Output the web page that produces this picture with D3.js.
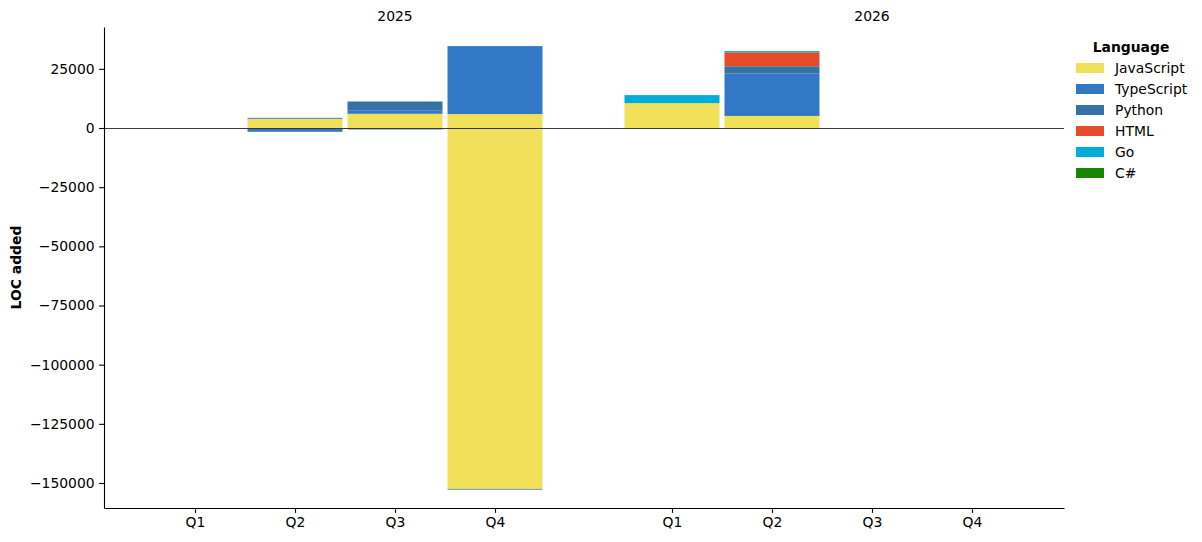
<!DOCTYPE html>
<html>
<head>
<meta charset="utf-8">
<script src="https://cdn.jsdelivr.net/npm/d3@7"></script>
<style>
  body { margin: 0; background: #fff; }
  text { font-family: "DejaVu Sans", sans-serif; }
</style>
</head>
<body>
<div id="chart"></div>
<script>
// Data
var years = ["2025", "2026"];
var quarters = ["Q1", "Q2", "Q3", "Q4"];
var languages = ["JavaScript", "TypeScript", "Python", "HTML", "Go", "C#"];
var colors = ["#f0e05a", "#3178c6", "#3572a5", "#e34c26", "#00add8", "#178600"];
var yTicks = [-150000, -125000, -100000, -75000, -50000, -25000, 0, 25000];

// lines added per period (2025 Q1..Q4, 2026 Q1..Q4)
var addedJavaScript = [0, 3900, 6000, 5900, 10500, 5100, 0, 0];
var addedTypeScript = [0, 400, 1300, 28700, 0, 17900, 0, 0];
var addedPython = [0, 0, 3900, 0, 0, 3100, 0, 0];
var addedHTML = [0, 0, 0, 0, 0, 5900, 0, 0];
var addedGo = [0, 0, 0, 0, 3400, 500, 0, 0];
var addedCSharp = [0, 0, 0, 0, 0, 0, 0, 0];

// lines removed per period
var removedJavaScript = [0, 0, 0, -152500, 0, 0, 0, 0];
var removedTypeScript = [0, -1600, 0, 0, 0, 0, 0, 0];
var removedPython = [0, 0, -600, -300, 0, -200, 0, 0];
var removedHTML = [0, 0, 0, 0, 0, 0, 0, 0];
var removedGo = [0, 0, 0, 0, 0, 0, 0, 0];
var removedCSharp = [0, 0, 0, 0, 0, 0, 0, 0];

var addedSeries = [addedJavaScript, addedTypeScript, addedPython, addedHTML, addedGo, addedCSharp];
var removedSeries = [removedJavaScript, removedTypeScript, removedPython, removedHTML, removedGo, removedCSharp];

// Setup chart dimensions
var svgWidth = 1202;
var svgHeight = 542;
var margin = { top: 27, right: 138, bottom: 34, left: 104 };
var width = svgWidth - margin.left - margin.right;
var height = svgHeight - margin.top - margin.bottom;
var groupGap = 0.77;
var barWidth = 0.95;

// build period table
var periods = [];
years.forEach(function(y, yi) {
  quarters.forEach(function(q, qi) {
    var i = yi * quarters.length + qi;
    var row = { year: y, quarter: q, pos: yi * (quarters.length + groupGap) + qi };
    languages.forEach(function(l, li) {
      row["add_" + l] = addedSeries[li][i];
      row["rem_" + l] = removedSeries[li][i];
    });
    periods.push(row);
  });
});

var svg = d3.select("#chart")
  .append("svg")
  .attr("width", svgWidth)
  .attr("height", svgHeight);

var chartGroup = svg.append("g")
  .attr("transform", `translate(${margin.left}, ${margin.top})`);

// Scales
var xScale = d3.scaleLinear()
  .domain([-0.91, (years.length - 1) * (quarters.length + groupGap) + quarters.length - 1 + 0.92])
  .range([0, width]);

var yScale = d3.scaleLinear()
  .domain([-160560, 42680])
  .range([height, 0]);

// Stacks
var addStack = d3.stack().keys(languages.map(l => "add_" + l))(periods);
var remStack = d3.stack().keys(languages.map(l => "rem_" + l))(periods);

function drawStack(stack, cls) {
  chartGroup.selectAll("g." + cls)
    .data(stack)
    .enter()
    .append("g")
    .attr("class", cls)
    .attr("fill", (d, i) => colors[i])
    .selectAll("rect")
    .data(d => d.filter(s => s[1] !== s[0]))
    .enter()
    .append("rect")
    .attr("x", d => xScale(d.data.pos - barWidth / 2))
    .attr("width", d => xScale(barWidth) - xScale(0))
    .attr("y", d => yScale(Math.max(d[0], d[1])))
    .attr("height", d => Math.abs(yScale(d[0]) - yScale(d[1])));
}
drawStack(addStack, "added");
drawStack(remStack, "removed");

// zero line
chartGroup.append("line")
  .attr("x1", 0)
  .attr("x2", width)
  .attr("y1", Math.round(yScale(0)) + 0.5)
  .attr("y2", Math.round(yScale(0)) + 0.5)
  .attr("stroke", "#3a3a3a")
  .attr("stroke-width", 1);

// Axes
var leftAxis = d3.axisLeft(yScale)
  .tickValues(yTicks)
  .tickFormat(d3.format("d"))
  .tickSize(4.9)
  .tickSizeOuter(0)
  .tickPadding(4.5);

var bottomAxis = d3.axisBottom(xScale)
  .tickValues(periods.map(p => p.pos))
  .tickFormat((d, i) => periods[i].quarter)
  .tickSize(4.9)
  .tickSizeOuter(0)
  .tickPadding(4.5);

var yAxisG = chartGroup.append("g")
  .call(leftAxis);

var xAxisG = chartGroup.append("g")
  .attr("transform", `translate(0, ${height})`)
  .call(bottomAxis);

[yAxisG, xAxisG].forEach(function(g) {
  g.selectAll("text")
    .attr("font-size", "13.9px")
    .attr("font-family", "DejaVu Sans, sans-serif")
    .attr("fill", "#000");
  g.selectAll("line").attr("stroke", "#000").attr("stroke-width", 1.1);
  g.select(".domain").attr("stroke", "#000").attr("stroke-width", 1.1);
});

// year labels above each group
chartGroup.selectAll("text.year")
  .data(years)
  .enter()
  .append("text")
  .attr("class", "year")
  .attr("x", (d, i) => xScale(i * (quarters.length + groupGap) + 2))
  .attr("y", -6)
  .attr("text-anchor", "middle")
  .attr("font-size", "13.9px")
  .text(d => d);

// y axis label
chartGroup.append("text")
  .attr("transform", "rotate(-90)")
  .attr("x", 0 - (height / 2))
  .attr("y", 0 - margin.left + 21)
  .attr("text-anchor", "middle")
  .attr("font-size", "13.9px")
  .attr("font-weight", "bold")
  .text("LOC added");

// Legend
var legend = svg.append("g")
  .attr("transform", "translate(1076, 0)");

legend.append("text")
  .attr("x", 55)
  .attr("y", 52)
  .attr("text-anchor", "middle")
  .attr("font-size", "13.9px")
  .attr("font-weight", "bold")
  .text("Language");

var items = legend.selectAll("g.item")
  .data(languages)
  .enter()
  .append("g")
  .attr("class", "item")
  .attr("transform", (d, i) => `translate(0, ${68 + i * 21})`);

items.append("rect")
  .attr("x", 0)
  .attr("y", -5)
  .attr("width", 28)
  .attr("height", 10)
  .attr("fill", (d, i) => colors[i]);

items.append("text")
  .attr("x", 39)
  .attr("y", 5)
  .attr("font-size", "13.9px")
  .text(d => d);
</script>
</body>
</html>
